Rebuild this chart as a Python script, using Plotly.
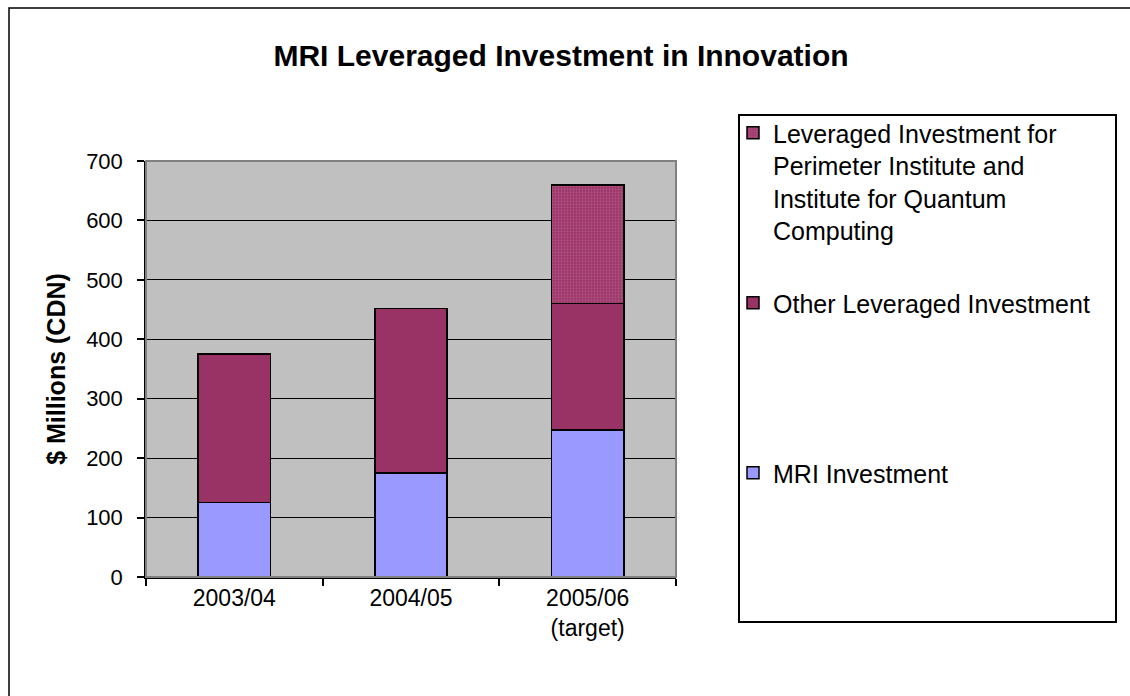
import plotly.graph_objects as go

categories = ["2003/04", "2004/05", "2005/06<br>(target)"]
mri_investment = [125, 175, 247]
other_leveraged = [250, 277, 213]
pi_iqc_leveraged = [None, None, 200]

FONT = "Arial, 'Liberation Sans', Helvetica, sans-serif"
W, H = 1130, 696
L, R, T, B = 146, 454, 161, 119
PW, PH = W - L - R, H - T - B

def px_x(p):
    return (p - L) / PW

def px_y(p):
    return (H - B - p) / PH

fig = go.Figure()
fig.add_trace(go.Bar(
    x=categories, y=mri_investment, name="MRI Investment",
    marker=dict(color="#9999FF", line=dict(color="black", width=1.5)),
    legendgroup="c", legendrank=3,
))
fig.add_trace(go.Bar(
    x=categories, y=other_leveraged,
    name="Other Leveraged Investment<br> <br> <br> ",
    marker=dict(color="#993366", line=dict(color="black", width=1.5)),
    legendgroup="b", legendrank=2,
))
fig.add_trace(go.Bar(
    x=categories, y=pi_iqc_leveraged,
    name="Leveraged Investment for<br>Perimeter Institute and<br>Institute for Quantum<br>Computing",
    marker=dict(color="#993366", line=dict(color="black", width=1.5),
                pattern=dict(shape=".", fgcolor="#C8709C", bgcolor="#993366",
                             size=3, solidity=0.45)),
    legendgroup="a", legendrank=1,
))

fig.update_layout(
    width=W, height=H,
    margin=dict(l=L, r=R, t=T, b=B, autoexpand=False),
    barmode="stack", bargap=0.59,
    plot_bgcolor="#C0C0C0", paper_bgcolor="white",
    font=dict(family=FONT, size=22, color="black"),
    title=dict(text="<b>MRI Leveraged Investment in Innovation</b>",
               x=px_x(561), xref="paper", xanchor="center",
               y=1 - 55 / H, yanchor="middle",
               font=dict(family=FONT, size=30, color="black")),
    showlegend=True,
    legend=dict(x=px_x(733), y=px_y(110), xanchor="left", yanchor="top",
                xref="paper", yref="paper", maxheight=640,
                font=dict(family=FONT, size=25, color="black"),
                valign="top", tracegroupgap=37, traceorder="grouped",
                bgcolor="rgba(0,0,0,0)", borderwidth=0, itemwidth=30),
    xaxis=dict(showline=True, linecolor="black", linewidth=1.5,
               ticks="outside", tickson="boundaries", ticklen=7,
               tickcolor="black", tickwidth=1.5, showgrid=False,
               tickfont=dict(size=23)),
    yaxis=dict(range=[0, 700], dtick=100, showline=True, linecolor="black",
               linewidth=1.5, ticks="outside", ticklen=7, tickcolor="black",
               tickwidth=1.5, showgrid=True, gridcolor="black", gridwidth=1,
               zeroline=False, ticklabelstandoff=10,
               tickfont=dict(size=22),
               title=dict(text="<b>$ Millions (CDN)</b>", standoff=13,
                          font=dict(family=FONT, size=25))),
    shapes=[
        dict(type="rect", xref="paper", yref="paper", x0=0, x1=1, y0=0, y1=1,
             line=dict(color="#808080", width=2), layer="above"),
        dict(type="rect", xref="paper", yref="paper",
             x0=px_x(739), x1=px_x(1116), y0=px_y(622), y1=px_y(115),
             line=dict(color="black", width=2), fillcolor="rgba(0,0,0,0)"),
        dict(type="rect", xref="paper", yref="paper",
             x0=px_x(9), x1=px_x(1140), y0=px_y(706), y1=px_y(8),
             line=dict(color="black", width=1.5), fillcolor="rgba(0,0,0,0)"),
    ],
)

fig.write_html("out.html", config={"displayModeBar": False},
               post_script="document.body.style.margin='0px';document.body.style.overflow='hidden';")
